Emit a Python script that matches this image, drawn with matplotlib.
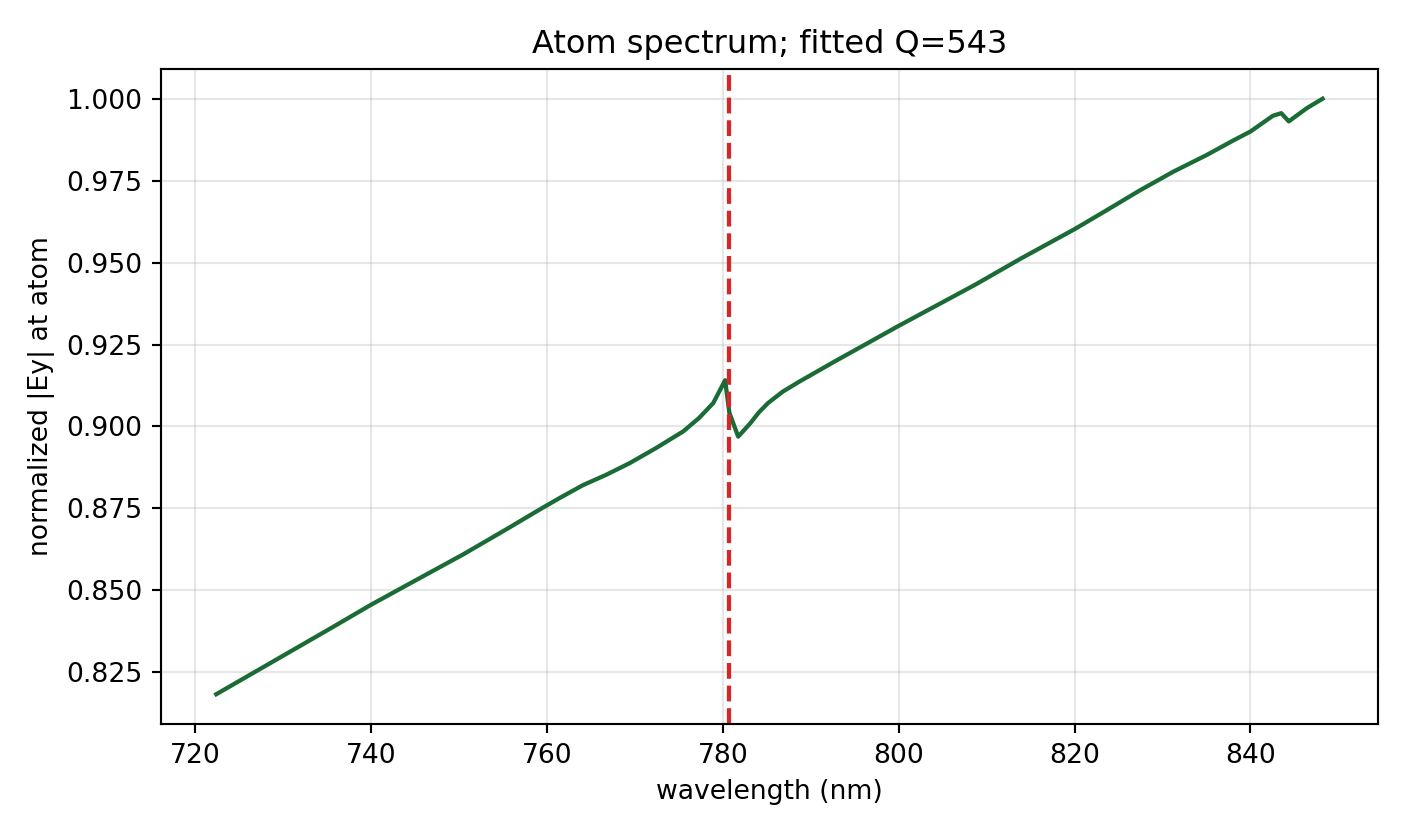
import numpy as np
import matplotlib.pyplot as plt

# spectrum
wavelength_nm = [722.4, 735.4, 740.0, 744.9, 750.5, 755.5, 759.2, 761.4, 764.1,
                 766.7, 769.4, 772.4, 775.5, 777.3, 778.9, 780.26, 780.75,
                 781.75, 783.13, 784.1, 785.12, 786.8, 788.71, 792.7, 800.0,
                 808.66, 814.0, 820.0, 823.6, 827.4, 831.2, 835.0, 838.0, 840.0,
                 842.55, 843.5, 844.36, 846.4, 848.2]
ey_norm = [0.8183, 0.8384, 0.8456, 0.8528, 0.8610, 0.8688, 0.8747, 0.8781, 0.8821,
           0.8852, 0.8888, 0.8934, 0.8985, 0.9026, 0.9071, 0.9141, 0.9041,
           0.8969, 0.9010, 0.9043, 0.9071, 0.9106, 0.9137, 0.9198, 0.9307,
           0.9432, 0.9514, 0.9602, 0.9659, 0.9720, 0.9777, 0.9828, 0.9872, 0.9900,
           0.9948, 0.9956, 0.9931, 0.9971, 1.0000]
atom_line_nm = 780.75
fitted_q = 543

fig, ax = plt.subplots(figsize=(1406 / 192, 836 / 192), dpi=192)
fig.subplots_adjust(left=0.1145, right=0.980, top=0.9175, bottom=0.134)

ax.plot(wavelength_nm, ey_norm, color="#1a6b35", lw=1.6)
ax.axvline(atom_line_nm, color="#d62728", ls="--", lw=1.6)

ax.set_xlabel("wavelength (nm)")
ax.set_ylabel("normalized |Ey| at atom")
ax.set_title(f"Atom spectrum; fitted Q={fitted_q}")
ax.grid(True, alpha=0.3)

fig.savefig("out.png", dpi=192)
